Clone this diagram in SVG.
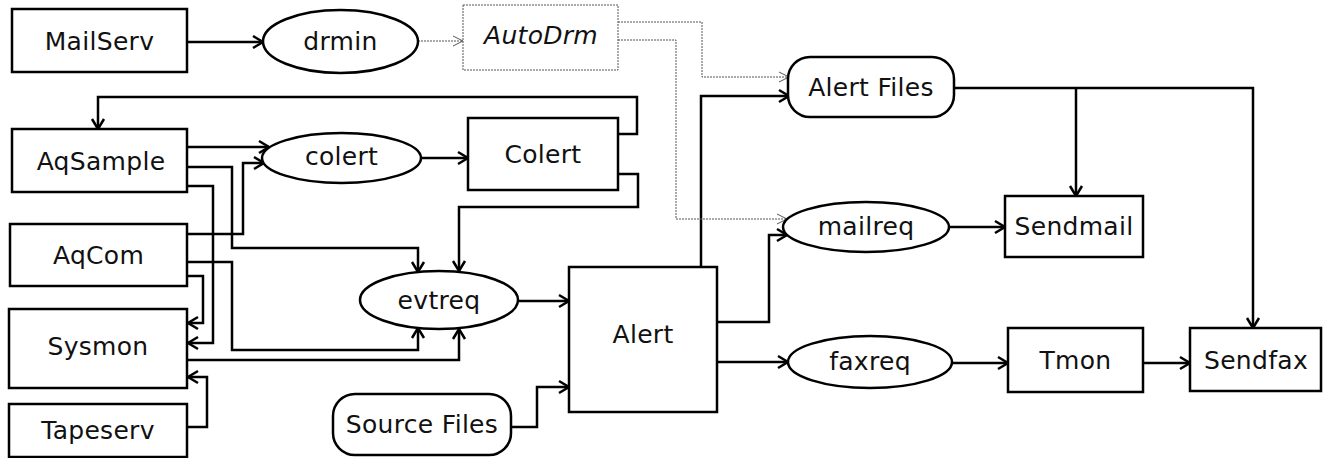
<svg xmlns="http://www.w3.org/2000/svg" width="1323" height="458" viewBox="0 0 1323 458">
<style>
.n{fill:#fff;stroke:#000;stroke-width:2.5}
.d{fill:#fff;stroke:#555;stroke-width:1;stroke-dasharray:2,1}
.t{font-family:"DejaVu Sans","Liberation Sans",sans-serif;font-size:25px;letter-spacing:0.3px;fill:#111;text-anchor:middle}
.i{font-style:italic}
.c{fill:none;stroke:#000;stroke-width:2.5;marker-end:url(#a)}
.q{fill:none;stroke:#555;stroke-width:1;stroke-dasharray:2,1;marker-end:url(#b)}
</style>
<defs>
<marker id="a" viewBox="-13 -9 15 18" markerWidth="15" markerHeight="18" refX="0" refY="0" orient="auto" markerUnits="userSpaceOnUse">
<path d="M-10,-6 L0,0 L-10,6" fill="none" stroke="#000" stroke-width="2.5"/>
</marker>
<marker id="b" viewBox="-13 -9 15 18" markerWidth="15" markerHeight="18" refX="0" refY="0" orient="auto" markerUnits="userSpaceOnUse">
<path d="M-10,-5 L0,0 L-10,5" fill="none" stroke="#555" stroke-width="1"/>
</marker>
</defs>
<rect width="1323" height="458" fill="#fff"/>
<g id="connectors">
<path class="c" d="M187,42 H263"/>
<path class="c" d="M187,147 H269"/>
<path class="c" d="M187,234 H243 V163 H264"/>
<path class="c" d="M421,158 H468"/>
<path class="c" d="M618,134 H637 V97 H98 V129"/>
<path class="c" d="M618,174 H638 V207 H459 V271"/>
<path class="c" d="M187,167 H232 V248 H418 V272"/>
<path class="c" d="M187,186 H213 V343 H188"/>
<path class="c" d="M187,262 H232 V350 H418 V328"/>
<path class="c" d="M187,276 H203 V323 H188"/>
<path class="c" d="M187,360 H459 V329"/>
<path class="c" d="M187,427 H207 V377 H188"/>
<path class="c" d="M518,301 H569"/>
<path class="c" d="M511,427 H537 V387 H569"/>
<path class="c" d="M701,267 V96 H789"/>
<path class="c" d="M717,322 H769 V235 H787"/>
<path class="c" d="M717,362 H788"/>
<path class="c" d="M949,227 H1005"/>
<path class="c" d="M952,363 H1008"/>
<path class="c" d="M1143,363 H1190"/>
<path class="c" d="M954,88 H1253 V328"/>
<path class="c" d="M1076,88 V196"/>
<path class="q" d="M418,41 H463"/>
<path class="q" d="M618,22 H702 V77 H789"/>
<path class="q" d="M618,40 H676 V219 H787"/>
</g>
<g id="MailServ"><rect class="n" x="12" y="9" width="175" height="63"/><text class="t" x="99.5" y="50">MailServ</text></g>
<g id="drmin"><ellipse class="n" cx="340.5" cy="41.5" rx="77.5" ry="31.5"/><text class="t" x="340.5" y="50">drmin</text></g>
<g id="AutoDrm"><rect class="d" x="463" y="5" width="155" height="65"/><text class="t i" x="541" y="44">AutoDrm</text></g>
<g id="AqSample"><rect class="n" x="12" y="129" width="175" height="63"/><text class="t" x="101" y="170">AqSample</text></g>
<g id="colert"><ellipse class="n" cx="341.5" cy="158" rx="79.5" ry="25"/><text class="t" x="341.5" y="165">colert</text></g>
<g id="Colert"><rect class="n" x="468" y="118" width="150" height="72"/><text class="t" x="543" y="163">Colert</text></g>
<g id="AqCom"><rect class="n" x="10" y="224" width="177" height="62"/><text class="t" x="98.5" y="264">AqCom</text></g>
<g id="evtreq"><ellipse class="n" cx="439" cy="300" rx="79" ry="29"/><text class="t" x="439" y="309">evtreq</text></g>
<g id="Sysmon"><rect class="n" x="9" y="309" width="178" height="79"/><text class="t" x="98" y="355">Sysmon</text></g>
<g id="Tapeserv"><rect class="n" x="9" y="404" width="178" height="53"/><text class="t" x="98" y="439">Tapeserv</text></g>
<g id="SourceFiles"><rect class="n" x="333" y="394" width="178" height="61" rx="22"/><text class="t" x="422" y="433">Source Files</text></g>
<g id="Alert"><rect class="n" x="569" y="267" width="148" height="145"/><text class="t" x="643" y="343">Alert</text></g>
<g id="AlertFiles"><rect class="n" x="788" y="57" width="166" height="60" rx="22"/><text class="t" x="871" y="96">Alert Files</text></g>
<g id="mailreq"><ellipse class="n" cx="866" cy="227" rx="83" ry="25"/><text class="t" x="866" y="235">mailreq</text></g>
<g id="faxreq"><ellipse class="n" cx="870" cy="362" rx="82" ry="26"/><text class="t" x="870" y="370">faxreq</text></g>
<g id="Sendmail"><rect class="n" x="1005" y="196" width="138" height="61"/><text class="t" x="1074" y="235">Sendmail</text></g>
<g id="Tmon"><rect class="n" x="1008" y="328" width="135" height="64"/><text class="t" x="1075.5" y="369">Tmon</text></g>
<g id="Sendfax"><rect class="n" x="1190" y="328" width="131" height="63"/><text class="t" x="1256" y="369">Sendfax</text></g>
</svg>
